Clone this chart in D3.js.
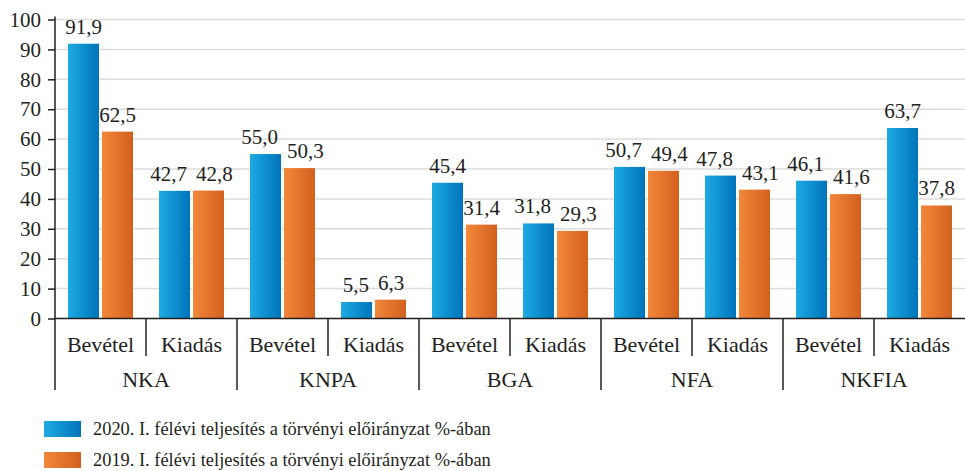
<!DOCTYPE html>
<html><head><meta charset="utf-8">
<script src="https://cdn.jsdelivr.net/npm/d3@7"></script>
<style>body{margin:0;background:#fff}svg{display:block}text{font-family:"Liberation Serif","DejaVu Serif",serif;fill:#231f20}</style>
</head><body>
<svg id="c" width="965" height="471"></svg>
<script>
const groups = ["NKA","KNPA","BGA","NFA","NKFIA"];
const subcats = ["Bevétel","Kiadás"];
const series2020 = [91.9,42.7,55.0,5.5,45.4,31.8,50.7,47.8,46.1,63.7];
const series2019 = [62.5,42.8,50.3,6.3,31.4,29.3,49.4,43.1,41.6,37.8];
const seriesNames = ["2020. I. félévi teljesítés a törvényi előirányzat %-ában","2019. I. félévi teljesítés a törvényi előirányzat %-ában"];
const yTicks = [0,10,20,30,40,50,60,70,80,90,100];

const svg = d3.select("#c");
const defs = svg.append("defs");
function grad(id,c1,c2){
  const g = defs.append("linearGradient").attr("id",id).attr("x1","0").attr("x2","1").attr("y1","0").attr("y2","0");
  g.append("stop").attr("offset","0").attr("stop-color",c1);
  g.append("stop").attr("offset","1").attr("stop-color",c2);
}
grad("gBlue","#1eaae2","#0074bb");
grad("gOrange","#f2883a","#d2601e");
const fills = ["url(#gBlue)","url(#gOrange)"];

const left=55, right=965, y0=318.5, y100=19.5;
const keys = [];
groups.forEach(g=>subcats.forEach(s=>keys.push(g+"|"+s)));
const x = d3.scaleBand().domain(keys).range([left,right]).padding(0);
const xg = d3.scaleBand().domain(groups).range([left,right]).padding(0);
const xs = d3.scaleBand().domain([0,1]).range([13,78]).paddingInner(3/34).paddingOuter(0);
const y = d3.scaleLinear().domain([0,100]).range([y0,y100]);

// gridlines
svg.append("g").selectAll("line").data(yTicks.filter(t=>t>0)).join("line")
  .attr("x1",left).attr("x2",right).attr("y1",d=>y(d)).attr("y2",d=>y(d))
  .attr("stroke","#dcdcdc").attr("stroke-width",1.5);

// y axis
const yAxis = d3.axisLeft(y).tickValues(yTicks).tickSize(7).tickPadding(7).tickFormat(d3.format("d"));
const ya = svg.append("g").attr("transform",`translate(${left},0)`).call(yAxis);
ya.select(".domain").remove();
ya.selectAll("line").attr("stroke","#231f20").attr("stroke-width",1.5);
ya.selectAll("text").attr("font-size",21).attr("font-family","Liberation Serif").attr("fill","#231f20");

// bars
const data = keys.map((k,i)=>({k, v:[series2020[i],series2019[i]]}));
const fmt = v=>v.toFixed(1).replace(".",",");
data.forEach(d=>{
  const labels = [];
  [0,1].forEach(s=>{
    const bx = x(d.k)+xs(s);
    svg.append("rect").attr("x",bx).attr("width",xs.bandwidth())
      .attr("y",y(d.v[s])).attr("height",y0-y(d.v[s])).attr("fill",fills[s]);
    labels.push(svg.append("text").attr("x",bx+xs.bandwidth()/2).attr("y",y(d.v[s])-10)
      .attr("text-anchor","middle").attr("font-size",21).text(fmt(d.v[s])));
  });
  // avoid overlap when labels are at similar heights
  if (Math.abs(d.v[0]-d.v[1]) < 8) {
    const w0 = labels[0].node().getComputedTextLength(), w1 = labels[1].node().getComputedTextLength();
    const c0 = +labels[0].attr("x"), c1 = +labels[1].attr("x");
    const gap = (c1 - w1/2) - (c0 + w0/2);
    const need = 9;
    if (gap < need) {
      const sh = (need-gap)/2;
      labels[0].attr("x", c0-sh); labels[1].attr("x", c1+sh);
    }
  }
});

// axis lines
svg.append("line").attr("x1",left).attr("x2",left).attr("y1",y100-3).attr("y2",390).attr("stroke","#231f20").attr("stroke-width",1.5);
svg.append("line").attr("x1",left).attr("x2",right).attr("y1",y0).attr("y2",y0).attr("stroke","#231f20").attr("stroke-width",1.5);
// sub separators
svg.append("g").selectAll("line").data(groups).join("line")
  .attr("x1",g=>x(g+"|Kiadás")).attr("x2",g=>x(g+"|Kiadás")).attr("y1",y0).attr("y2",356)
  .attr("stroke","#231f20").attr("stroke-width",1.5);
svg.append("g").selectAll("line").data(groups.slice(1)).join("line")
  .attr("x1",g=>xg(g)).attr("x2",g=>xg(g)).attr("y1",y0).attr("y2",390)
  .attr("stroke","#231f20").attr("stroke-width",1.5);
// labels
svg.append("g").selectAll("text").data(keys).join("text")
  .attr("x",k=>x(k)+x.bandwidth()/2).attr("y",352).attr("text-anchor","middle").attr("font-size",22)
  .text(k=>k.split("|")[1]);
svg.append("g").selectAll("text").data(groups).join("text")
  .attr("x",g=>xg(g)+xg.bandwidth()/2).attr("y",387).attr("text-anchor","middle").attr("font-size",22)
  .text(g=>g);

// legend
seriesNames.forEach((n,i)=>{
  const ly = 421 + i*31;
  svg.append("rect").attr("x",44).attr("y",ly).attr("width",37).attr("height",16).attr("fill",fills[i]);
  svg.append("text").attr("x",93).attr("y",ly+14).attr("font-size",18.4).text(n);
});
</script>
</body></html>
